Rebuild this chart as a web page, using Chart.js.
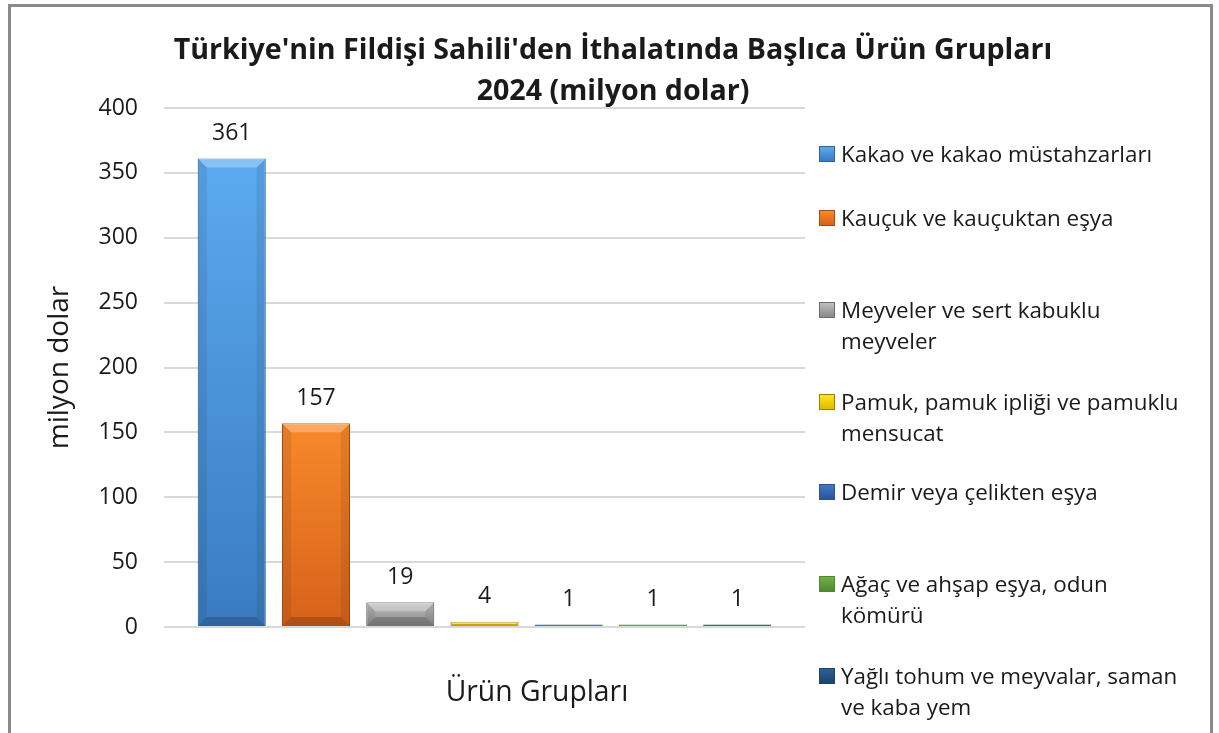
<!DOCTYPE html>
<html lang="tr">
<head>
<meta charset="utf-8">
<script src="https://cdn.jsdelivr.net/npm/chart.js@4.4.1/dist/chart.umd.min.js"></script>
<style>
body { margin: 0; background: #fff; font-family: "Open Sans", sans-serif; color: #1a1a1a; }
#wrap { position: relative; width: 1219px; height: 733px; overflow: hidden; }
#chart { position: absolute; left: 0; top: 0; }
#frame { position: absolute; left: 8px; top: 4px; width: 1205px; height: 800px; border: 3px solid #8a8a8a; box-sizing: border-box; pointer-events: none; }
#title { position: absolute; left: 0; width: 1226px; top: 27px; text-align: center; font-weight: 700; font-size: 28.6px; line-height: 41px; }
#xtitle { position: absolute; left: 337px; width: 400px; top: 673px; text-align: center; font-size: 28.3px; line-height: 34px; }
.leg { position: absolute; left: 819px; font-size: 22.4px; line-height: 31px; white-space: nowrap; }
.leg i { position: absolute; left: 0; top: 8px; width: 16px; height: 16px; box-sizing: border-box; }
.leg span { display: block; margin-left: 22px; }
</style>
</head>
<body>
<div id="wrap">
  <canvas id="chart" width="1219" height="733"></canvas>
  <div id="title">Türkiye'nin Fildişi Sahili'den İthalatında Başlıca Ürün Grupları<br>2024 (milyon dolar)</div>
  <div id="xtitle">Ürün Grupları</div>
  <div id="legend"></div>
  <div id="frame"></div>
</div>
<script>
// categories (each one is its own series in the original chart)
let categories = [
  ["Kakao ve kakao müstahzarları"],
  ["Kauçuk ve kauçuktan eşya"],
  ["Meyveler ve sert kabuklu", "meyveler"],
  ["Pamuk, pamuk ipliği ve pamuklu", "mensucat"],
  ["Demir veya çelikten eşya"],
  ["Ağaç ve ahşap eşya, odun", "kömürü"],
  ["Yağlı tohum ve meyvalar, saman", "ve kaba yem"]
]
let values = [361, 157, 19, 4, 1, 1, 1]
let yTicks = [0, 50, 100, 150, 200, 250, 300, 350, 400]

// look
let topColors = ["#5BAAF0", "#F8892A", "#BEBEBE", "#FFE41A", "#4277C8", "#72B048", "#2D5F93"]
let bottomColors = ["#3A7BC0", "#D6621A", "#888888", "#E0BB00", "#2A5499", "#4E8A30", "#1D436E"]
let borderColors = ["#2F6399", "#A94E12", "#6C6C6C", "#9A8000", "#2A5499", "#4E8A30", "#1D436E"]
let legendTops = [153, 217, 309, 401, 491, 583, 675]

// legend in html
let legend = document.getElementById("legend")
categories.forEach((lines, i) => {
  let d = document.createElement("div")
  d.className = "leg"
  d.style.top = (legendTops[i] - 15.5) + "px"
  d.innerHTML = `<i style="background:linear-gradient(${topColors[i]},${bottomColors[i]});border:1px solid ${borderColors[i]}"></i><span>${lines.join("<br>")}</span>`
  legend.appendChild(d)
})

function barFill(i) {
  return (c) => {
    let y = c.chart.scales.y
    if (!y || c.type !== "data") return topColors[i]
    let top = y.getPixelForValue(c.raw)
    let base = y.getPixelForValue(0)
    if (!(base - top > 3)) return bottomColors[i]
    let g = c.chart.ctx.createLinearGradient(0, top, 0, base)
    g.addColorStop(0, topColors[i])
    g.addColorStop(1, bottomColors[i])
    return g
  }
}

// soft bevel on each bar, from the bar elements
let bevel = {
  id: "bevel",
  afterDatasetsDraw(chart) {
    let ctx = chart.ctx
    chart.data.datasets.forEach((ds, i) => {
      let bar = chart.getDatasetMeta(i).data[0]
      let l = bar.x - bar.width / 2, r = bar.x + bar.width / 2
      let t = bar.y, b = bar.base
      let s = Math.min(9, (b - t) / 2)
      if (s < 2) return
      ctx.save()
      ctx.fillStyle = "rgba(255,255,255,0.28)"
      ctx.beginPath(); ctx.moveTo(l, t); ctx.lineTo(r, t); ctx.lineTo(r - s, t + s); ctx.lineTo(l + s, t + s); ctx.fill()
      ctx.fillStyle = "rgba(0,0,0,0.18)"
      ctx.beginPath(); ctx.moveTo(l, b); ctx.lineTo(r, b); ctx.lineTo(r - s, b - s); ctx.lineTo(l + s, b - s); ctx.fill()
      ctx.fillStyle = "rgba(0,0,0,0.08)"
      ctx.beginPath(); ctx.moveTo(l, t); ctx.lineTo(l + s, t + s); ctx.lineTo(l + s, b - s); ctx.lineTo(l, b); ctx.fill()
      ctx.beginPath(); ctx.moveTo(r, t); ctx.lineTo(r - s, t + s); ctx.lineTo(r - s, b - s); ctx.lineTo(r, b); ctx.fill()
      ctx.restore()
    })
  }
}

let valueLabels = {
  id: "valueLabels",
  afterDatasetsDraw(chart) {
    let ctx = chart.ctx
    ctx.save()
    ctx.font = '23px "Open Sans"'
    ctx.fillStyle = "#1a1a1a"
    ctx.textAlign = "center"
    ctx.textBaseline = "middle"
    chart.data.datasets.forEach((ds, i) => {
      let bar = chart.getDatasetMeta(i).data[0]
      ctx.fillText(ds.data[0], bar.x, bar.y - 25)
    })
    ctx.restore()
  }
}

let ctx = document.getElementById("chart")
let myChart = new Chart(ctx, {
  type: "bar",
  data: {
    labels: [""],
    datasets: categories.map((lines, i) => ({
      label: lines.join(" "),
      data: [values[i]],
      backgroundColor: barFill(i),
      borderColor: borderColors[i],
      borderWidth: 1,
      minBarLength: 2.5,
      categoryPercentage: 0.92,
      barPercentage: 0.807
    }))
  },
  options: {
    responsive: false,
    animation: false,
    layout: { padding: { left: 0, top: 108, right: 414, bottom: 106 } },
    plugins: { legend: { display: false }, title: { display: false }, tooltip: { enabled: false } },
    scales: {
      x: { display: false },
      y: {
        min: 0,
        max: 400,
        afterFit: (s) => { s.width = 164 },
        afterBuildTicks: (s) => { s.ticks = yTicks.map((v) => ({ value: v })) },
        grid: { color: "#d9d9d9", lineWidth: 2, drawTicks: false },
        border: { display: false },
        ticks: { padding: 26, color: "#1a1a1a", font: { family: "Open Sans", size: 23 } },
        title: { display: true, text: "milyon dolar", color: "#1a1a1a", font: { family: "Open Sans", size: 28 }, padding: { top: 43 } }
      }
    }
  },
  plugins: [bevel, valueLabels]
})
</script>
</body>
</html>
